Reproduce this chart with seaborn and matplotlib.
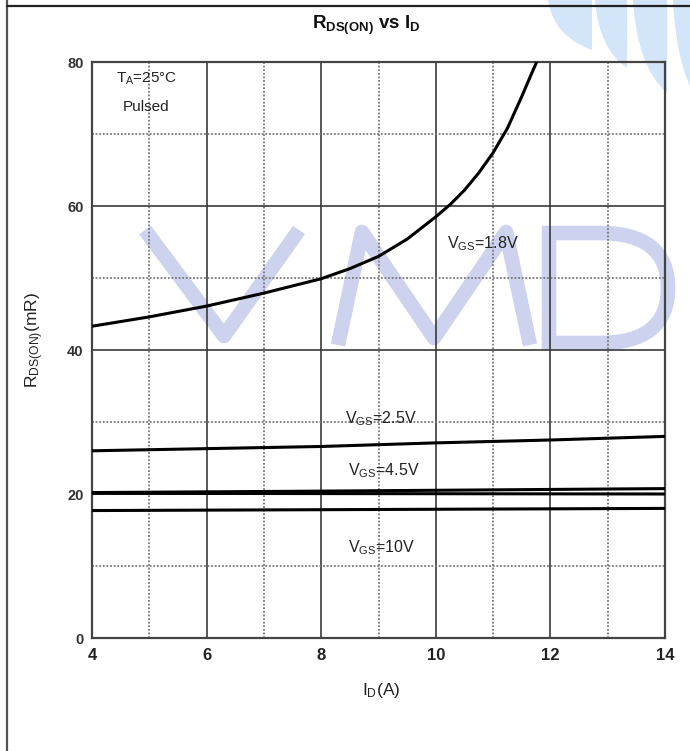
import matplotlib
matplotlib.use("Agg")
import numpy as np
import pandas as pd
import seaborn as sns
import matplotlib.pyplot as plt
from matplotlib.patches import PathPatch
from matplotlib.path import Path
from matplotlib.lines import Line2D

# ---------------- data ----------------
id_18 = [4, 5, 6, 7, 8, 8.5, 9, 9.5, 10, 10.25, 10.5, 10.75, 11, 11.25, 11.5, 11.65, 11.76]
r_18 = [43.3, 44.6, 46.1, 47.9, 49.9, 51.3, 53.0, 55.4, 58.5, 60.2, 62.2, 64.6, 67.4, 70.8, 75.2, 78.0, 80.0]
id_25 = [4, 6, 8, 10, 12, 14]
r_25 = [26.0, 26.3, 26.6, 27.1, 27.5, 28.0]
id_45a = [4, 8, 14]
r_45a = [20.2, 20.4, 20.75]
id_45b = [4, 14]
r_45b = [20.1, 20.0]
id_10 = [4, 14]
r_10 = [17.7, 18.0]

x_major = [4, 6, 8, 10, 12, 14]
x_minor = [5, 7, 9, 11, 13]
y_major = [0, 20, 40, 60, 80]
y_minor = [10, 30, 50, 70]

labels = [r"V$_{\mathregular{GS}}$=1.8V", r"V$_{\mathregular{GS}}$=2.5V",
          r"V$_{\mathregular{GS}}$=4.5V", r"V$_{\mathregular{GS}}$=10V"]

frames = []
for name, xs, ys in [("1.8", id_18, r_18), ("2.5", id_25, r_25), ("4.5a", id_45a, r_45a),
                     ("4.5b", id_45b, r_45b), ("10", id_10, r_10)]:
    frames.append(pd.DataFrame({"ID": xs, "R": ys, "series": name}))
df = pd.concat(frames, ignore_index=True)

# ---------------- style ----------------
sns.set_theme(style="white")
plt.rcParams["font.family"] = ["Liberation Sans", "DejaVu Sans"]
plt.rcParams["mathtext.fontset"] = "custom"
plt.rcParams["mathtext.rm"] = "Liberation Sans"
plt.rcParams["mathtext.it"] = "Liberation Sans:italic"
plt.rcParams["mathtext.bf"] = "Liberation Sans:bold"

W, H = 690, 751
fig = plt.figure(figsize=(W / 100, H / 100), dpi=100)
fig.patch.set_facecolor("white")

def fx(px):
    return px / W

def fy(py):
    return 1 - py / H

def to_fig(px, py):
    return (fx(px), fy(py))

ax_l, ax_r, ax_t, ax_b = 92, 665, 62, 638
ax = fig.add_axes([fx(ax_l), fy(ax_b), (ax_r - ax_l) / W, (ax_b - ax_t) / H])
ax.set_facecolor("none")

# decorative light-blue stripes (top right)
def stripe(x0, x1, ytip, color="#d3e5f8"):
    w = x1 - x0
    verts = [(x0, 0), (x1, 0), (x1, ytip), (x0 + 0.12 * w, ytip * 0.72), (x0, 0), (x0, 0)]
    codes = [Path.MOVETO, Path.LINETO, Path.LINETO, Path.CURVE3, Path.CURVE3, Path.CLOSEPOLY]
    p = Path([to_fig(*v) for v in verts], codes)
    fig.patches.append(PathPatch(p, transform=fig.transFigure, fc=color, ec="none", zorder=-5))

stripe(548, 592, 50)
stripe(595, 627, 68)
stripe(633, 667, 93)
stripe(673, 705, 110)

# watermark VMD (stroked letters)
wm = dict(color="#cdd2ee", lw=10.5, solid_joinstyle="miter", solid_capstyle="butt",
          transform=fig.transFigure, clip_on=False, zorder=0.4)
for pts in [[(145, 230), (224, 336), (299, 230)],
            [(338, 345), (362, 232), (434, 338), (506, 232), (530, 345)]]:
    xs, ys = zip(*[to_fig(*p) for p in pts])
    ax.add_line(Line2D(xs, ys, **wm))
d_verts = [(549, 233), (600, 233), (668, 233), (668, 288), (668, 343), (600, 343), (549, 343), (549, 233)]
d_codes = [Path.MOVETO, Path.LINETO, Path.CURVE3, Path.CURVE3, Path.CURVE3, Path.CURVE3,
           Path.LINETO, Path.CLOSEPOLY]
ax.add_patch(PathPatch(Path([to_fig(*v) for v in d_verts], d_codes), transform=fig.transFigure,
                       fc="none", ec="#cdd2ee", lw=10.5, clip_on=False, zorder=0.4,
                       joinstyle="miter"))

# border lines
fig.add_artist(Line2D([fx(7), fx(7)], [0, 1], color="#555555", lw=1.6, transform=fig.transFigure))
fig.add_artist(Line2D([fx(7), 1], [fy(6), fy(6)], color="#222222", lw=1.6, transform=fig.transFigure))

# ---------------- curves ----------------
sns.lineplot(data=df, x="ID", y="R", units="series", estimator=None, color="black",
             lw=2.2, ax=ax, legend=False, zorder=3, sort=False)
for ln in ax.get_lines():
    ln.set_solid_joinstyle("round")

ax.set_xlim(4, 14)
ax.set_ylim(0, 80)
ax.set_xticks(x_major)
ax.set_xticks(x_minor, minor=True)
ax.set_yticks(y_major)
ax.set_yticks(y_minor, minor=True)
ax.set_xticklabels([str(v) for v in x_major], fontsize=12, fontweight="bold", color="#222222")
ax.set_yticklabels([str(v) for v in y_major], fontsize=10.5, fontweight="bold", color="#333333")
ax.tick_params(which="both", length=0)
ax.tick_params(axis="x", pad=7)
ax.tick_params(axis="y", pad=6)
ax.set_axisbelow(True)
ax.grid(which="major", color="#3a3a3a", lw=1.2, ls="-")
ax.grid(which="minor", color="#777777", lw=1.3, ls=(0, (1, 1)))
for s in ax.spines.values():
    s.set_color("#444444")
    s.set_linewidth(1.6)
    s.set_visible(True)
ax.set_xlabel("")
ax.set_ylabel("")

# labels
fig.text(fx(366), fy(25), r"R$_{\mathbf{DS(ON)}}$ vs I$_{\mathbf{D}}$", ha="center", va="center",
         fontsize=13.5, fontweight="bold", color="#111111")
fig.text(fx(381), fy(690), r"I$_{\mathregular{D}}$(A)", ha="center", va="center",
         fontsize=12.5, color="#222222")
fig.text(fx(35), fy(340), r"R$_{\mathregular{DS(ON)}}$(mR)", ha="center", va="center",
         fontsize=12.5, rotation=90, color="#222222")

# annotations
ax.text(4.95, 77.7, r"T$_{\mathregular{A}}$=25°C", ha="center", va="center",
        fontsize=11, color="#222222", zorder=4)
ax.text(4.95, 73.7, "Pulsed", ha="center", va="center", fontsize=11, color="#222222", zorder=4)
ax.text(10.2, 54.8, labels[0], ha="left", va="center", fontsize=11.5, color="#222222", zorder=4)
ax.text(8.41, 30.4, labels[1], ha="left", va="center", fontsize=11.5, color="#222222", zorder=4)
ax.text(8.46, 23.2, labels[2], ha="left", va="center", fontsize=11.5, color="#222222", zorder=4)
ax.text(8.46, 12.6, labels[3], ha="left", va="center", fontsize=11.5, color="#222222", zorder=4)

fig.savefig("out.png", dpi=100)
